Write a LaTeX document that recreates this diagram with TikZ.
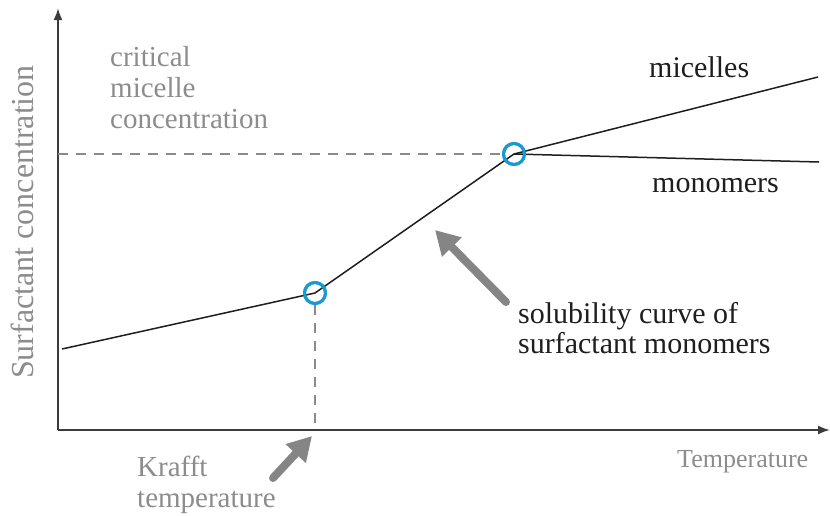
\documentclass[tikz,border=0pt]{standalone}
\usepackage{fontspec}
\setmainfont{Liberation Serif}
\usetikzlibrary{arrows.meta}
\definecolor{labelgray}{HTML}{8C8C8C}
\definecolor{inkblack}{HTML}{1E1E1E}
\definecolor{axisgray}{HTML}{3C3C3C}
\definecolor{dashgray}{HTML}{8A8A8A}
\definecolor{ringblue}{HTML}{1A9AD0}
\definecolor{pointergray}{HTML}{858585}
\tikzset{
  graytext/.style={text=labelgray, font=\fontsize{29}{31}\selectfont, inner sep=0pt, align=left},
  blacktext/.style={text=inkblack, font=\fontsize{30}{30}\selectfont, inner sep=0pt, align=left},
  axisline/.style={draw=axisgray, line width=2pt, -{Latex[length=12pt,width=9pt]}},
  curveline/.style={draw=inkblack, line width=1.5pt, line join=round},
  guideline/.style={draw=dashgray, line width=1.2pt, dash pattern=on 10pt off 8pt},
  ring/.style={circle, draw=ringblue, line width=3pt, minimum size=21pt, inner sep=0pt},
  pointer/.style={draw=pointergray, line width=8pt, line cap=round, -{Triangle[length=24pt,width=26pt]}}
}
\begin{document}
\begin{tikzpicture}[x=1pt,y=-1pt]
\useasboundingbox (0,0) rectangle (830,515);
% axes
\coordinate (origin) at (58,430);
\coordinate (ytip) at (58,8);
\coordinate (xtip) at (830,430);
\draw[axisline] (origin) -- (ytip);
\draw[axisline] (origin) -- (xtip);
% curve points
\coordinate (start) at (62,349);
\coordinate (micend) at (818,77);
\coordinate (monend) at (819,162);
\node[ring] (kp) at (315,293) {};
\node[ring] (cp) at (514,154) {};
\coordinate (cmcaxis) at (58,154);
\coordinate (kaxis) at (315,430);
% dashed guides
\draw[guideline] (cmcaxis) -- (cp.west);
\draw[guideline] (kp.south) -- (kaxis);
% curves
\draw[curveline] (start) -- (kp.center) -- (cp.center) -- (micend);
\draw[curveline] (cp.center) -- (monend);
% redraw rings on top
\node[ring] at (kp.center) {};
\node[ring] at (cp.center) {};
% labels
\node[graytext, anchor=north west] (cmc) at (110,46) {critical\\micelle\\concentration};
\node[graytext, anchor=north west] (krafft) at (137,456) {Krafft\\temperature};
\node[graytext, anchor=base west, font=\fontsize{26}{26}\selectfont] (xlab) at (677,467) {Temperature};
\node[graytext, anchor=base, rotate=90, font=\fontsize{32}{32}\selectfont] (ylab) at (33,222) {Surfactant concentration};
\node[blacktext, anchor=base west] (mic) at (649,77) {micelles};
\node[blacktext, anchor=base west] (mon) at (652,192) {monomers};
\node[blacktext, anchor=north west] (sol) at (518,302) {solubility curve of\\surfactant monomers};
% pointers
\coordinate (ktail) at (273,478);
\coordinate (ktip) at (312,436);
\coordinate (stail) at (506,302);
\coordinate (stip) at (435,230);
\draw[pointer] (ktail) -- (ktip);
\draw[pointer] (stail) -- (stip);
\end{tikzpicture}
\end{document}
